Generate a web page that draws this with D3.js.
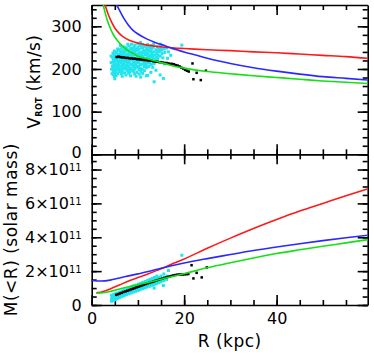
<!DOCTYPE html>
<html>
<head>
<meta charset="utf-8">
<script src="https://cdn.jsdelivr.net/npm/d3@7"></script>
<style>
body { margin: 0; background: #fff; }
text { font-family: "DejaVu Sans", sans-serif; fill: #000; }
</style>
</head>
<body>
<div id="chart"></div>
<script>
// ---- data ----
const xTicks = [0, 20, 40];
const vTicks = [0, 100, 200, 300];
const mTicks = [0, 2, 4, 6, 8];   // units of 1e11 solar masses

// rotation curves [R kpc, V km/s]
const redV = [[2.9,350],[3.5,330],[4.2,312],[5,296],[6,283],[7,274],[8,268],[9,264],[10,261],[12,256],[14,253],[16,251],[18,249],[20,248],[25,245],[30,243],[35,240],[40,238],[45,235],[50,232],[55,229],[59.7,225]];
const blueV = [[5.4,350],[6,338],[7,318],[8,302],[9,290],[10,282],[12,270],[14,261],[16,254],[18,246],[20,240],[25,225],[30,213],[35,203],[40,195],[45,188],[50,182],[55,178],[59.7,174]];
const greenV = [[2.5,350],[3,328],[3.5,310],[4,296],[4.5,284],[5,275],[6,261],[7,250],[8,242],[9,236],[10,230],[12,224],[14,218],[16,212],[18,206],[20,202],[25,194],[30,189],[35,184],[40,180],[45,176],[50,172],[55,169],[59.7,166]];

// enclosed mass curves [R kpc, M in 1e11]
const redM = [[1,0.72],[2.5,0.8],[4,0.95],[6,1.18],[8,1.42],[10,1.62],[12,1.82],[14,2.03],[16,2.25],[18,2.5],[20,2.72],[25,3.35],[30,3.95],[35,4.52],[40,5.05],[45,5.55],[50,6.0],[55,6.45],[59.7,6.86]];
const blueM = [[0,1.45],[2,1.42],[4,1.47],[6,1.6],[8,1.72],[10,1.84],[12,1.96],[15,2.17],[20,2.48],[25,2.74],[30,2.98],[35,3.22],[40,3.43],[45,3.62],[50,3.8],[55,3.97],[59.7,4.12]];
const greenM = [[1,0.69],[2.5,0.72],[4,0.8],[6,0.95],[8,1.08],[10,1.2],[12,1.32],[15,1.52],[20,1.85],[25,2.2],[30,2.5],[35,2.78],[40,3.04],[45,3.26],[50,3.47],[55,3.67],[59.7,3.86]];

// tracer points (black) [R, V] and [R, M]
const blackV = [[5.4,228],[5.8,229],[6.2,228],[6.6,227],[7.0,227],[7.4,226],[7.8,226],[8.2,225],[8.6,225],[9.0,224],[9.4,224],[9.8,223],[10.2,223],[10.6,222],[11.0,222],[11.4,221],[11.8,221],[12.2,220],[12.6,220],[13.0,219],[13.4,218],[13.8,217],[14.2,217],[14.6,216],[15.0,216],[15.4,215],[15.8,214],[16.2,214],[16.6,213],[17.0,212],[17.4,212],[17.8,211],[18.2,209],[18.6,208],[19.0,206],[19.4,203],[19.8,201],[20.2,198],[20.6,196],[21.0,194],
  [21.8,213],[22.0,176],[22.7,191],[23.6,174],[24.7,196]];
const blackM = [[5.3,0.6],[5.7,0.64],[6.1,0.68],[6.5,0.72],[6.9,0.77],[7.3,0.8],[7.7,0.84],[8.1,0.88],[8.5,0.92],[8.9,0.96],[9.3,1.0],[9.7,1.04],[10.1,1.08],[10.5,1.12],[10.9,1.16],[11.3,1.2],[11.7,1.24],[12.1,1.28],[12.5,1.31],[12.9,1.35],[13.3,1.38],[13.7,1.42],[14.1,1.46],[14.5,1.49],[14.9,1.53],[15.3,1.56],[15.7,1.6],[16.1,1.63],[16.5,1.66],[16.9,1.69],[17.3,1.72],[17.7,1.75],[18.1,1.77],[18.5,1.79],[18.9,1.8],[19.3,1.8],[19.7,1.8],[20.1,1.81],[20.5,1.82],[20.9,1.83],
  [21.6,2.35],[22.0,1.57],[22.7,1.9],[23.8,1.63],[24.9,2.22]];

// gas/star points (cyan) [R, V]
const cyanV = [
  [8.6,258],[9.9,260],[12.1,257],[13.4,259],[19.5,256],[16.2,249],[9.3,256],[11.0,257],[12.9,255],[10.6,262],
  [6.9,252],[8.1,254],[9.2,251],[10.4,255],[11.5,253],[12.7,250],[14.2,252],[15.6,247],
  [7.5,250],[8.9,249],[10.0,251],[11.0,250],[12.1,252],[13.3,251],[15.0,249],
  [5.6,247],[6.5,249],[7.4,246],[8.5,248],[9.6,247],[10.8,249],[11.9,246],[13.0,247],[13.9,245],[15.1,244],
  [6.1,245],[7.0,244],[8.0,245],[9.1,244],[10.2,246],[11.4,244],[12.4,245],[14.5,246],
  [4.9,242],[5.8,244],[6.7,241],[7.7,243],[8.8,242],[9.9,244],[11.1,241],[12.3,243],[13.4,240],[14.6,241],[15.8,239],
  [5.3,240],[6.3,239],[7.2,241],[8.3,240],[9.4,241],[10.5,239],[11.7,240],[12.8,241],[14.1,239],
  [4.6,237],[5.4,239],[6.2,236],[7.1,238],[8.0,237],[9.0,239],[10.1,236],[11.2,238],[12.2,236],[13.1,237],[14.0,235],[15.2,236],
  [5.0,235],[5.9,234],[6.8,235],[7.8,234],[8.7,236],[9.8,234],[10.8,235],[11.9,234],[12.9,235],[14.4,233],
  [4.8,232],[5.7,234],[6.5,231],[7.4,233],[8.4,232],[9.4,234],[10.5,231],[11.6,233],[12.7,231],[13.6,232],[14.8,230],
  [5.1,230],[6.0,229],[6.9,230],[7.9,229],[8.9,231],[9.9,229],[11.1,230],[12.2,229],[13.1,230],[14.1,228],
  [4.5,227],[5.3,229],[6.1,226],[7.0,228],[7.9,227],[8.9,229],[9.8,226],[10.9,228],[12.0,226],[13.2,227],[14.3,225],[15.4,226],
  [4.9,225],[5.7,224],[6.6,225],[7.5,224],[8.5,226],[9.4,224],[10.4,225],[11.5,224],[12.6,225],[13.7,224],
  [4.7,222],[5.6,224],[6.4,221],[7.3,223],[8.2,222],[9.3,224],[10.3,221],[11.4,223],[12.5,221],[13.8,222],
  [5.0,220],[5.9,219],[6.8,220],[7.7,219],[8.7,221],[9.7,219],[10.7,220],[11.8,219],[12.9,220],[14.2,219],
  [4.6,217],[5.4,219],[6.3,216],[7.2,218],[8.1,217],[9.1,219],[10.0,216],[11.1,218],[12.3,216],[13.5,217],
  [5.1,215],[6.0,214],[6.9,215],[7.9,214],[9.1,215],[10.2,214],[11.3,215],[12.5,214],[13.5,213],
  [4.8,212],[5.7,214],[6.6,211],[7.6,213],[8.6,212],[9.6,214],[10.7,211],[11.8,213],[12.9,211],
  [4.9,210],[5.8,209],[6.7,210],[7.6,209],[8.5,210],[9.5,209],[10.6,210],[11.8,209],
  [4.5,207],[5.3,209],[6.2,206],[7.1,208],[8.0,207],[9.0,209],[10.1,206],[11.3,208],[12.4,206],
  [5.0,205],[5.9,204],[6.9,205],[7.9,204],[9.0,205],[10.2,204],[11.4,205],
  [4.7,202],[5.5,204],[6.5,201],[7.5,203],[8.5,202],[9.5,204],[10.6,201],[11.9,203],
  [5.0,200],[5.9,199],[7.0,200],[8.2,199],[9.3,200],[10.9,199],
  [4.6,197],[5.4,199],[6.3,196],[7.6,198],[8.8,197],[10.2,199],[11.4,196],
  [5.2,195],[6.6,194],[7.8,195],[9.1,194],[10.6,195],
  [4.8,192],[5.9,194],[7.1,191],[8.3,193],[9.8,192],[11.0,190],
  [5.1,190],[6.4,189],[8.0,190],[10.3,188],
  [4.7,187],[5.6,189],[7.4,186],[9.3,188],[12.1,185],[5.3,185],[8.4,184],
  [4.9,182],[6.6,183],[10.6,181],[5.0,177],[13.5,170],[15.5,178],[11.8,184],[14.8,186],
  // loose points round the edge of the cloud
  [4.2,215],[4.3,200],[4.2,230],[16.6,240],[17.1,232],[6.2,255],[14.9,258],[12.8,192],[9.6,183],[13.9,197],[4.4,189],[16.4,225],[7.8,258],[15.7,212],[13.2,204]
];
// cyan points [R, M]
const cyanM = [
  [4.3,0.22],[4.3,0.35],[4.4,0.47],[4.3,0.58],
  [4.7,0.27],[4.8,0.39],[4.7,0.5],[4.8,0.63],
  [5.1,0.31],[5.2,0.43],[5.1,0.55],[5.2,0.67],
  [5.5,0.37],[5.6,0.49],[5.5,0.6],[5.6,0.71],
  [6.0,0.43],[6.1,0.55],[6.0,0.66],[6.1,0.77],
  [6.5,0.49],[6.6,0.6],[6.5,0.72],[6.6,0.83],
  [7.0,0.55],[7.1,0.67],[7.0,0.78],[7.1,0.89],
  [7.5,0.61],[7.6,0.72],[7.5,0.84],[7.6,0.94],
  [8.0,0.66],[8.1,0.78],[8.0,0.9],[8.1,1.01],
  [8.5,0.71],[8.6,0.83],[8.5,0.95],[8.6,1.07],
  [9.0,0.76],[9.1,0.88],[9.0,1.0],[9.1,1.13],
  [9.5,0.81],[9.6,0.93],[9.5,1.05],[9.6,1.17],
  [10.0,0.86],[10.1,0.98],[10.0,1.1],[10.1,1.24],
  [10.5,0.91],[10.6,1.03],[10.5,1.15],[10.6,1.29],
  [11.0,0.96],[11.1,1.08],[11.0,1.2],[11.1,1.34],
  [11.5,1.01],[11.6,1.13],[11.5,1.25],[11.6,1.39],
  [12.0,1.06],[12.1,1.18],[12.0,1.3],[12.1,1.45],
  [12.5,1.11],[12.6,1.23],[12.5,1.36],[12.6,1.51],
  [13.0,1.16],[13.1,1.29],[13.0,1.42],[13.1,1.57],
  [13.5,1.21],[13.6,1.35],[13.5,1.49],[13.6,1.63],
  [14.0,1.27],[14.1,1.41],[14.0,1.56],[14.1,1.71],
  [14.5,1.31],[14.6,1.47],[14.5,1.63],
  [15.0,1.37],[15.1,1.53],[15.0,1.71],
  [15.6,1.43],[15.7,1.61],[15.6,1.83],
  [16.2,1.51],[16.3,1.71],[16.6,2.04],
  [19.5,2.94],[13.5,1.0],[15.5,1.15]
];

// ---- layout ----
const width = 374, height = 355;
const plotL = 91.7, plotR = 367.7, plotT = 5, plotMid = 154.3, plotB = 305;

const svg = d3.select('#chart').append('svg')
    .attr('width', width)
    .attr('height', height);

const x = d3.scaleLinear().domain([0, 59.7]).range([plotL, plotR]);
const yV = d3.scaleLinear().domain([0, 350]).range([plotMid, plotT]);
const yM = d3.scaleLinear().domain([0, 8.9]).range([plotB, plotMid]);

const xMinor = d3.range(0, 60, 5);

function panel(y, majors, minors, fmt, showX, id) {
    const y0 = y.range()[0], y1 = y.range()[1];

    svg.append('clipPath').attr('id', id)
        .append('rect').attr('x', plotL).attr('y', y1).attr('width', plotR - plotL).attr('height', y0 - y1);

    const axes = svg.append('g').attr('class', 'axes');
    // left, with labels
    axes.append('g').attr('class', 'yaxis').attr('transform', 'translate(' + plotL + ',0)')
        .call(d3.axisLeft(y).tickValues(majors).tickSize(-10).tickSizeOuter(0).tickPadding(10).tickFormat(fmt));
    axes.append('g').attr('class', 'minor').attr('transform', 'translate(' + plotL + ',0)')
        .call(d3.axisLeft(y).tickValues(minors).tickSize(-5).tickSizeOuter(0).tickFormat(''));
    // right
    axes.append('g').attr('transform', 'translate(' + plotR + ',0)')
        .call(d3.axisRight(y).tickValues(majors).tickSize(-10).tickSizeOuter(0).tickFormat(''));
    axes.append('g').attr('class', 'minor').attr('transform', 'translate(' + plotR + ',0)')
        .call(d3.axisRight(y).tickValues(minors).tickSize(-5).tickSizeOuter(0).tickFormat(''));
    // bottom
    axes.append('g').attr('transform', 'translate(0,' + y0 + ')')
        .call(d3.axisBottom(x).tickValues(xTicks).tickSize(-10).tickSizeOuter(0).tickPadding(8).tickFormat(showX ? d3.format('d') : ''));
    axes.append('g').attr('class', 'minor').attr('transform', 'translate(0,' + y0 + ')')
        .call(d3.axisBottom(x).tickValues(xMinor).tickSize(-5).tickSizeOuter(0).tickFormat(''));
    // top
    axes.append('g').attr('transform', 'translate(0,' + y1 + ')')
        .call(d3.axisTop(x).tickValues(xTicks).tickSize(-10).tickSizeOuter(0).tickFormat(''));
    axes.append('g').attr('class', 'minor').attr('transform', 'translate(0,' + y1 + ')')
        .call(d3.axisTop(x).tickValues(xMinor).tickSize(-5).tickSizeOuter(0).tickFormat(''));

    axes.selectAll('.minor .domain').remove();
    axes.selectAll('line, path').attr('stroke', '#000').attr('stroke-width', 1.6);
    axes.selectAll('text').attr('font-size', 16).attr('font-family', '"DejaVu Sans", sans-serif');

    return axes;
}

const topAxes = panel(yV, vTicks, d3.range(0, 351, 20), d3.format('d'), false, 'clipTop');
const botAxes = panel(yM, mTicks, d3.range(0, 8.9, 0.5), d => d, true, 'clipBot');

// top panel's "0" sits a touch higher so it clears the 8x10^11 label
topAxes.selectAll('.yaxis .tick text').filter(d => d === 0).attr('dy', '0.2em');

// mass labels as N×10^11
botAxes.selectAll('.yaxis .tick text').each(function(d) {
    if (d === 0) return;
    const t = d3.select(this);
    t.text(null);
    t.append('tspan').text(d + '×10');
    t.append('tspan').attr('dy', '-0.4em').attr('font-size', 10).text('11');
});

// ---- marks ----
function points(data, y, color, size, clip) {
    svg.append('g').attr('clip-path', 'url(#' + clip + ')')
        .selectAll('rect')
        .data(data)
        .enter().append('rect')
        .attr('x', d => x(d[0]) - size / 2)
        .attr('y', d => y(d[1]) - size / 2)
        .attr('width', size)
        .attr('height', size)
        .attr('fill', color);
}

function curve(data, y, color, clip) {
    const line = d3.line().x(d => x(d[0])).y(d => y(d[1])).curve(d3.curveMonotoneX);
    svg.append('path')
        .attr('clip-path', 'url(#' + clip + ')')
        .attr('d', line(data))
        .attr('fill', 'none')
        .attr('stroke', color)
        .attr('stroke-width', 1.6);
}

const cyan = '#22e4ef', red = '#ff1a1a', blue = '#2a2aff', green = '#14e014';

points(cyanV, yV, cyan, 3, 'clipTop');
points(blackV, yV, '#000', 2.5, 'clipTop');
curve(redV, yV, red, 'clipTop');
curve(blueV, yV, blue, 'clipTop');
curve(greenV, yV, green, 'clipTop');

points(cyanM, yM, cyan, 3, 'clipBot');
points(blackM, yM, '#000', 2.5, 'clipBot');
curve(redM, yM, red, 'clipBot');
curve(blueM, yM, blue, 'clipBot');
curve(greenM, yM, green, 'clipBot');

// ---- axis titles ----
const vTitle = svg.append('text')
    .attr('transform', 'translate(40,' + ((plotT + plotMid) / 2 + 2) + ') rotate(-90)')
    .attr('text-anchor', 'middle')
    .attr('font-size', 17)
    .attr('letter-spacing', 0.4);
vTitle.append('tspan').text('V');
vTitle.append('tspan').attr('font-size', 8).attr('font-weight', 'bold').attr('dy', 2).text('ROT');
vTitle.append('tspan').attr('dy', -2).text(' (km/s)');

svg.append('text')
    .attr('transform', 'translate(17,' + ((plotMid + plotB) / 2) + ') rotate(-90)')
    .attr('text-anchor', 'middle')
    .attr('font-size', 17)
    .attr('letter-spacing', 0.5)
    .text('M(<R) (solar mass)');

svg.append('text')
    .attr('x', (plotL + plotR) / 2)
    .attr('y', 347)
    .attr('text-anchor', 'middle')
    .attr('font-size', 17)
    .attr('letter-spacing', 0.5)
    .text('R (kpc)');
</script>
</body>
</html>
